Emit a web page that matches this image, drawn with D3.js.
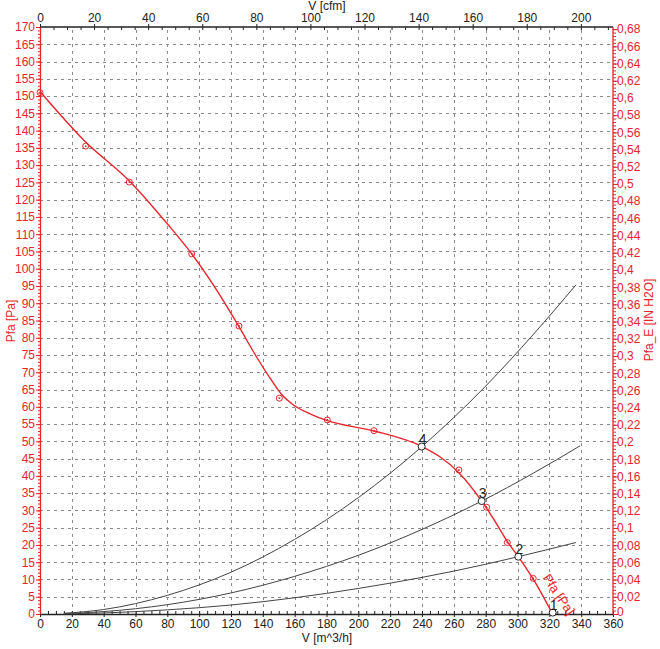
<!DOCTYPE html>
<html><head><meta charset="utf-8">
<script src="https://cdn.jsdelivr.net/npm/d3@7/dist/d3.min.js"></script>
<style>
html,body{margin:0;padding:0;background:#fff;}
svg{display:block;font-family:"Liberation Sans",Arial,sans-serif;}
</style></head>
<body><svg id="c" width="660" height="649"></svg>
<script>
// ---- data ----
const pfaCurve = [[0,151.3],[28,137],[56,125.5],[80,113],[95,104.5],[110,94.5],[125,83.2],[136,74.5],[145,68],[152,63.5],[159,60.6],[170,57.9],[180.5,56],[210,53],[240,48.5],[251,45.6],[263,41],[277.5,32.7],[285,27.5],[293.6,21],[300.5,16.6],[310,10],[322,0]];
const pfaMarkers = [[0,151],[28.7,135.5],[56.1,125.1],[95.3,104.3],[125,83.4],[150.4,62.5],[180.5,56.2],[209.8,53.1],[263.2,41.7],[280.6,30.9],[293.6,20.7],[309.9,10.3]];
const sys4 = [[15,0.2],[40,1.3],[80,5.4],[120,12.1],[160,21.6],[200,33.7],[240,48.5],[280,66],[310,81],[336.7,95.3]];
const sys3 = [[15,0.1],[40,0.7],[80,2.7],[120,6.1],[160,10.9],[200,17],[240,24.5],[277.5,32.7],[310,40.8],[339.3,48.7]];
const sys2 = [[15,0.05],[40,0.3],[80,1.2],[120,2.6],[160,4.7],[200,7.4],[240,10.6],[280,14.4],[300.5,16.6],[336.7,20.7]];
const opPoints = [{n:"1",v:322.1,p:0.4},{n:"2",v:300.5,p:16.6},{n:"3",v:277.5,p:32.7},{n:"4",v:239.8,p:48.5}];
const bottomTicks = d3.range(0,361,20);
const topTicks = d3.range(0,201,20);
const leftTicks = d3.range(0,171,5);
const rightTicks = d3.range(0,0.681,0.02);

const RED="#e8242b";
const svg=d3.select("#c");
const X0=40,X1=613,Y0=614,Y1=27;
const x=d3.scaleLinear().domain([0,360]).range([X0,X1]);
const y=d3.scaleLinear().domain([0,170]).range([Y0,Y1]);
const xTop=d3.scaleLinear().domain([0,360/1.699]).range([X0,X1]);
const yR=d3.scaleLinear().domain([0,170/249.09]).range([Y0,Y1]);
const fmt=v=>String(+v.toFixed(2)).replace(".",",");

// grid
const g=svg.append("g").attr("stroke","#8a8a8a").attr("stroke-width",1).attr("stroke-dasharray","3,4");
bottomTicks.filter(t=>t>0&&t<360).forEach(t=>g.append("line").attr("x1",Math.round(x(t))+.5).attr("x2",Math.round(x(t))+.5).attr("y1",Y0).attr("y2",Y1));
leftTicks.filter(t=>t>0&&t<170).forEach(t=>g.append("line").attr("y1",Math.round(y(t))+.5).attr("y2",Math.round(y(t))+.5).attr("x1",X0).attr("x2",X1));

// axes
function styleAxis(sel,color){sel.select(".domain").attr("stroke",color).attr("stroke-width",1.3);sel.selectAll("line").attr("stroke",color);sel.selectAll("text").attr("fill",color).style("font-size","12px").style("font-family","'Liberation Sans',Arial,sans-serif");}
const mb=svg.append("g").attr("transform",`translate(0,${Y0})`).call(d3.axisBottom(x).tickValues(d3.range(0,361,5)).tickSize(-3).tickFormat(""));
styleAxis(mb,"#222");mb.select(".domain").remove();
const ab=svg.append("g").attr("transform",`translate(0,${Y0})`).call(d3.axisBottom(x).tickValues(bottomTicks).tickSize(3).tickPadding(2).tickSizeOuter(0));
styleAxis(ab,"#222");
const mt=svg.append("g").attr("transform",`translate(0,${Y1})`).call(d3.axisTop(xTop).tickValues(d3.range(0,211,5)).tickSize(-3).tickFormat(""));
styleAxis(mt,"#222");mt.select(".domain").remove();
const at=svg.append("g").attr("transform",`translate(0,${Y1})`).call(d3.axisTop(xTop).tickValues(topTicks).tickSize(3).tickPadding(2).tickSizeOuter(0));
styleAxis(at,"#222");at.select(".domain").attr("d",`M${X0},0H${X1}`);
const ml=svg.append("g").attr("transform",`translate(${X0},0)`).call(d3.axisLeft(y).tickValues(d3.range(0,171,1)).tickSize(2).tickFormat(""));
styleAxis(ml,RED);ml.select(".domain").remove();
const al=svg.append("g").attr("transform",`translate(${X0},0)`).call(d3.axisLeft(y).tickValues(leftTicks).tickSize(4).tickPadding(1).tickSizeOuter(0));
styleAxis(al,RED);
const mr=svg.append("g").attr("transform",`translate(${X1},0)`).call(d3.axisRight(yR).tickValues(d3.range(0,0.681,0.004)).tickSize(3).tickFormat(""));
styleAxis(mr,RED);mr.select(".domain").remove();
const ar=svg.append("g").attr("transform",`translate(${X1},0)`).call(d3.axisRight(yR).tickValues(rightTicks).tickSize(5).tickPadding(-1).tickFormat(fmt).tickSizeOuter(0));
styleAxis(ar,RED);ar.select(".domain").attr("d",`M0,${Y0}V${Y1}`);
ar.selectAll(".tick text").filter(d=>d===0).attr("dy","0.12em");

// axis titles
svg.append("text").attr("x",327).attr("y",10).attr("text-anchor","middle").attr("fill","#222").style("font-size","12px").text("V [cfm]");
svg.append("text").attr("x",327).attr("y",642).attr("text-anchor","middle").attr("fill","#222").style("font-size","12px").text("V [m^3/h]");
svg.append("text").attr("transform","translate(15,321) rotate(-90)").attr("text-anchor","middle").attr("fill",RED).style("font-size","12px").text("Pfa [Pa]");
svg.append("text").attr("transform","translate(653,320) rotate(-90)").attr("text-anchor","middle").attr("fill",RED).style("font-size","12px").text("Pfa_E [IN H2O]");

// system curves
const sysLine=d3.line().x(d=>x(d[0])).y(d=>y(d[1])).curve(d3.curveMonotoneX);
[sys2,sys3,sys4].forEach(s=>svg.append("path").attr("d",sysLine(s)).attr("fill","none").attr("stroke","#444").attr("stroke-width",1));

// fan curve
const fanLine=d3.line().x(d=>x(d[0])).y(d=>y(d[1])).curve(d3.curveMonotoneX);
svg.append("path").attr("d",fanLine(pfaCurve)).attr("fill","none").attr("stroke",RED).attr("stroke-width",1.4);
const mk=svg.append("g");
pfaMarkers.forEach(d=>{
  mk.append("circle").attr("cx",x(d[0])).attr("cy",y(d[1])).attr("r",3).attr("fill","none").attr("stroke",RED).attr("stroke-width",1);
  mk.append("circle").attr("cx",x(d[0])).attr("cy",y(d[1])).attr("r",0.9).attr("fill",RED);
});
// operating points
opPoints.forEach(d=>{
  svg.append("circle").attr("cx",x(d.v)).attr("cy",y(d.p)).attr("r",3.5).attr("fill","#fff").attr("stroke","#222").attr("stroke-width",1);
  svg.append("text").attr("x",x(d.v)+1).attr("y",y(d.p)-3).attr("text-anchor","middle").attr("fill","#222").style("font-size","14px").text(d.n);
});
// curve label
svg.append("text").attr("transform",`translate(${x(315.5)},${y(10.5)}) rotate(56)`).attr("fill",RED).style("font-size","13px").text("Pfa [Pa]");
</script></body></html>
